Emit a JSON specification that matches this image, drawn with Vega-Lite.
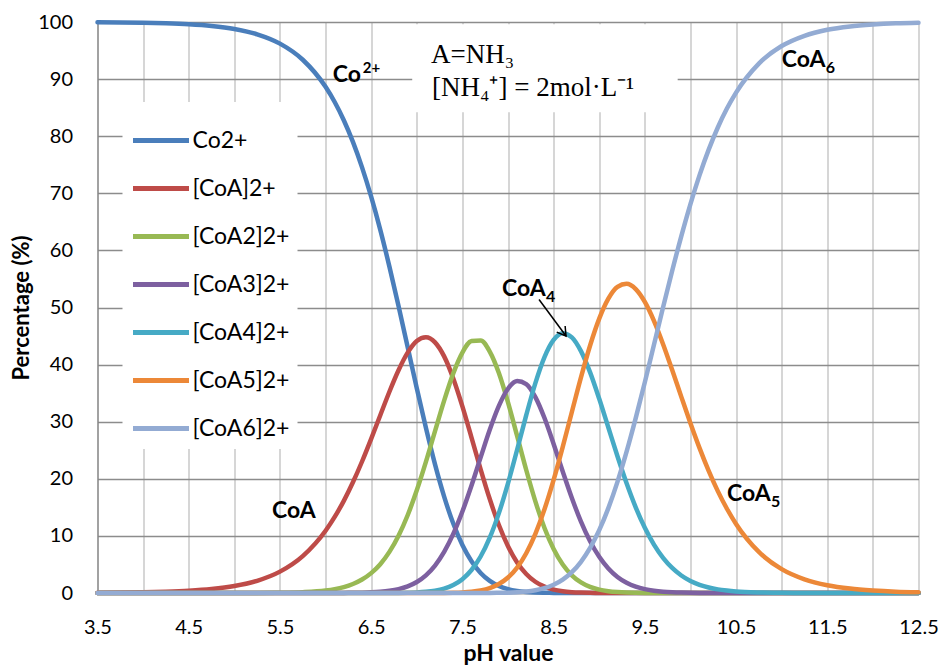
{
  "$schema": "https://vega.github.io/schema/vega-lite/v6.json",
  "width": 821,
  "height": 571,
  "autosize": {"type": "none"},
  "padding": {"left": 97.5, "top": 22, "right": 24.5, "bottom": 75},
  "background": "white",
  "config": {"view": {"stroke": null}, "font": "Lato"},
  "datasets": {
    "species": [
      {"pH":3.5,"s0":99.96,"s1":0.04,"s2":0,"s3":0,"s4":0,"s5":0,"s6":0},
      {"pH":3.75,"s0":99.93,"s1":0.07,"s2":0,"s3":0,"s4":0,"s5":0,"s6":0},
      {"pH":4.0,"s0":99.88,"s1":0.12,"s2":0,"s3":0,"s4":0,"s5":0,"s6":0},
      {"pH":4.25,"s0":99.78,"s1":0.22,"s2":0,"s3":0,"s4":0,"s5":0,"s6":0},
      {"pH":4.5,"s0":99.61,"s1":0.39,"s2":0,"s3":0,"s4":0,"s5":0,"s6":0},
      {"pH":4.75,"s0":99.31,"s1":0.69,"s2":0,"s3":0,"s4":0,"s5":0,"s6":0},
      {"pH":5.0,"s0":98.78,"s1":1.22,"s2":0,"s3":0,"s4":0,"s5":0,"s6":0},
      {"pH":5.25,"s0":97.84,"s1":2.14,"s2":0.02,"s3":0,"s4":0,"s5":0,"s6":0},
      {"pH":5.5,"s0":96.21,"s1":3.74,"s2":0.05,"s3":0,"s4":0,"s5":0,"s6":0},
      {"pH":5.75,"s0":93.39,"s1":6.46,"s2":0.15,"s3":0,"s4":0,"s5":0,"s6":0},
      {"pH":6.0,"s0":88.65,"s1":10.90,"s2":0.44,"s3":0,"s4":0,"s5":0,"s6":0},
      {"pH":6.1,"s0":85.99,"s1":13.32,"s2":0.68,"s3":0.01,"s4":0,"s5":0,"s6":0},
      {"pH":6.2,"s0":82.80,"s1":16.14,"s2":1.04,"s3":0.02,"s4":0,"s5":0,"s6":0},
      {"pH":6.3,"s0":79.00,"s1":19.39,"s2":1.58,"s3":0.03,"s4":0,"s5":0,"s6":0},
      {"pH":6.4,"s0":74.54,"s1":23.03,"s2":2.36,"s3":0.06,"s4":0,"s5":0,"s6":0},
      {"pH":6.5,"s0":69.40,"s1":27.00,"s2":3.48,"s3":0.12,"s4":0,"s5":0,"s6":0},
      {"pH":6.6,"s0":63.59,"s1":31.14,"s2":5.05,"s3":0.22,"s4":0,"s5":0,"s6":0},
      {"pH":6.7,"s0":57.16,"s1":35.25,"s2":7.20,"s3":0.39,"s4":0.01,"s5":0,"s6":0},
      {"pH":6.8,"s0":50.26,"s1":39.01,"s2":10.03,"s3":0.68,"s4":0.02,"s5":0,"s6":0},
      {"pH":6.9,"s0":43.08,"s1":42.09,"s2":13.62,"s3":1.16,"s4":0.05,"s5":0,"s6":0},
      {"pH":7.0,"s0":35.87,"s1":44.13,"s2":17.98,"s3":1.93,"s4":0.10,"s5":0,"s6":0},
      {"pH":7.1,"s0":28.92,"s1":44.79,"s2":22.97,"s3":3.10,"s4":0.21,"s5":0,"s6":0},
      {"pH":7.2,"s0":22.52,"s1":43.90,"s2":28.35,"s3":4.81,"s4":0.41,"s5":0.01,"s6":0},
      {"pH":7.3,"s0":16.88,"s1":41.44,"s2":33.68,"s3":7.20,"s4":0.77,"s5":0.02,"s6":0},
      {"pH":7.4,"s0":12.16,"s1":37.58,"s2":38.46,"s3":10.35,"s4":1.40,"s5":0.05,"s6":0},
      {"pH":7.5,"s0":8.40,"s1":32.69,"s2":42.11,"s3":14.27,"s4":2.42,"s5":0.11,"s6":0},
      {"pH":7.6,"s0":5.56,"s1":27.22,"s2":44.14,"s3":18.83,"s4":4.03,"s5":0.23,"s6":0},
      {"pH":7.7,"s0":3.51,"s1":21.66,"s2":44.23,"s3":23.75,"s4":6.39,"s5":0.45,"s6":0.01},
      {"pH":7.8,"s0":2.12,"s1":16.45,"s2":42.28,"s3":28.59,"s4":9.69,"s5":0.86,"s6":0.01},
      {"pH":7.9,"s0":1.22,"s1":11.90,"s2":38.52,"s3":32.78,"s4":13.99,"s5":1.57,"s6":0.03},
      {"pH":8.0,"s0":0.67,"s1":8.19,"s2":33.38,"s3":35.77,"s4":19.21,"s5":2.71,"s6":0.06},
      {"pH":8.1,"s0":0.35,"s1":5.36,"s2":27.51,"s3":37.11,"s4":25.09,"s5":4.46,"s6":0.13},
      {"pH":8.2,"s0":0.17,"s1":3.34,"s2":21.54,"s3":36.59,"s4":31.14,"s5":6.97,"s6":0.25},
      {"pH":8.3,"s0":0.08,"s1":1.97,"s2":16.05,"s3":34.31,"s4":36.76,"s5":10.36,"s6":0.47},
      {"pH":8.4,"s0":0.04,"s1":1.11,"s2":11.38,"s3":30.64,"s4":41.33,"s5":14.66,"s6":0.84},
      {"pH":8.5,"s0":0.02,"s1":0.60,"s2":7.71,"s3":26.11,"s4":44.34,"s5":19.80,"s6":1.43},
      {"pH":8.6,"s0":0,"s1":0.31,"s2":4.99,"s3":21.28,"s4":45.50,"s5":25.59,"s6":2.33},
      {"pH":8.7,"s0":0,"s1":0.15,"s2":3.10,"s3":16.64,"s4":44.78,"s5":31.70,"s6":3.64},
      {"pH":8.8,"s0":0,"s1":0.07,"s2":1.85,"s3":12.50,"s4":42.36,"s5":37.76,"s6":5.46},
      {"pH":8.9,"s0":0,"s1":0.03,"s2":1.06,"s3":9.05,"s4":38.63,"s5":43.34,"s6":7.89},
      {"pH":9.0,"s0":0,"s1":0.01,"s2":0.59,"s3":6.33,"s4":34.01,"s5":48.04,"s6":11.01},
      {"pH":9.1,"s0":0,"s1":0,"s2":0.32,"s3":4.29,"s4":28.98,"s5":51.54,"s6":14.87},
      {"pH":9.2,"s0":0,"s1":0,"s2":0.17,"s3":2.81,"s4":23.95,"s5":53.61,"s6":19.47},
      {"pH":9.3,"s0":0,"s1":0,"s2":0.08,"s3":1.79,"s4":19.21,"s5":54.15,"s6":24.75},
      {"pH":9.4,"s0":0,"s1":0,"s2":0.04,"s3":1.11,"s4":15.00,"s5":53.22,"s6":30.62},
      {"pH":9.5,"s0":0,"s1":0,"s2":0.02,"s3":0.67,"s4":11.41,"s5":50.97,"s6":36.92},
      {"pH":9.6,"s0":0,"s1":0,"s2":0.01,"s3":0.40,"s4":8.47,"s5":47.66,"s6":43.47},
      {"pH":9.7,"s0":0,"s1":0,"s2":0,"s3":0.23,"s4":6.15,"s5":43.58,"s6":50.04},
      {"pH":9.8,"s0":0,"s1":0,"s2":0,"s3":0.13,"s4":4.38,"s5":39.05,"s6":56.44},
      {"pH":9.9,"s0":0,"s1":0,"s2":0,"s3":0.07,"s4":3.06,"s5":34.35,"s6":62.51},
      {"pH":10.0,"s0":0,"s1":0,"s2":0,"s3":0.04,"s4":2.10,"s5":29.73,"s6":68.12},
      {"pH":10.1,"s0":0,"s1":0,"s2":0,"s3":0.02,"s4":1.43,"s5":25.37,"s6":73.18},
      {"pH":10.2,"s0":0,"s1":0,"s2":0,"s3":0.01,"s4":0.96,"s5":21.39,"s6":77.65},
      {"pH":10.3,"s0":0,"s1":0,"s2":0,"s3":0,"s4":0.63,"s5":17.84,"s6":81.53},
      {"pH":10.4,"s0":0,"s1":0,"s2":0,"s3":0,"s4":0.42,"s5":14.75,"s6":84.84},
      {"pH":10.5,"s0":0,"s1":0,"s2":0,"s3":0,"s4":0.27,"s5":12.09,"s6":87.64},
      {"pH":10.75,"s0":0,"s1":0,"s2":0,"s3":0,"s4":0.09,"s5":7.19,"s6":92.72},
      {"pH":11.0,"s0":0,"s1":0,"s2":0,"s3":0,"s4":0.03,"s5":4.18,"s6":95.79},
      {"pH":11.25,"s0":0,"s1":0,"s2":0,"s3":0,"s4":0.01,"s5":2.40,"s6":97.59},
      {"pH":11.5,"s0":0,"s1":0,"s2":0,"s3":0,"s4":0,"s5":1.36,"s6":98.64},
      {"pH":11.75,"s0":0,"s1":0,"s2":0,"s3":0,"s4":0,"s5":0.77,"s6":99.23},
      {"pH":12.0,"s0":0,"s1":0,"s2":0,"s3":0,"s4":0,"s5":0.44,"s6":99.56},
      {"pH":12.25,"s0":0,"s1":0,"s2":0,"s3":0,"s4":0,"s5":0.24,"s6":99.76},
      {"pH":12.5,"s0":0,"s1":0,"s2":0,"s3":0,"s4":0,"s5":0.14,"s6":99.86}
    ],
    "box": [{"pH": 6.95, "pH2": 9.86, "pct": 84.2, "pct2": 99.6}],
    "arrow": [{"pH": 8.34, "pct": 51.4, "pH2": 8.636, "pct2": 45.0}],
    "labels": [
      {"pH": 6.08, "pct": 89.5, "label": "Co", "sup": "2+", "sub": ""},
      {"pH": 5.413, "pct": 13.1, "label": "CoA", "sup": "", "sub": ""},
      {"pH": 7.934, "pct": 52.0, "label": "CoA", "sup": "", "sub": "4"},
      {"pH": 10.40, "pct": 16.1, "label": "CoA", "sup": "", "sub": "5"},
      {"pH": 11.0, "pct": 92.1, "label": "CoA", "sup": "", "sub": "6"}
    ],
    "cond": [
      {"pH": 7.156, "pct": 92.8, "label": "A=NH₃"},
      {"pH": 7.167, "pct": 87.0, "label": "[NH₄⁺] = 2mol·L⁻¹"}
    ]
  },
  "encoding": {
    "x": {
      "field": "pH", "type": "quantitative",
      "scale": {"domain": [3.5, 12.5], "nice": false, "zero": false},
      "axis": {
        "title": "pH value",
        "values": [3.5,4,4.5,5,5.5,6,6.5,7,7.5,8,8.5,9,9.5,10,10.5,11,11.5,12,12.5],
        "labelExpr": "datum.value % 1 == 0 ? '' : format(datum.value, '.1f')",
        "labelOverlap": false,
        "labelFlush": false,
        "ticks": false,
        "labelPadding": 24,
        "labelFont": "Lato", "labelFontSize": 20, "labelColor": "black",
        "titleFont": "Lato", "titleFontSize": 23, "titleFontWeight": "bold", "titleColor": "black",
        "titlePadding": 5,
        "grid": true, "gridColor": "#C0C0C0", "gridWidth": 1.3,
        "domainColor": "#868686", "domainWidth": 1.3
      }
    },
    "y": {
      "field": "pct", "type": "quantitative",
      "scale": {"domain": [0, 100], "nice": false},
      "axis": {
        "title": "Percentage (%)",
        "values": [0,10,20,30,40,50,60,70,80,90,100],
        "ticks": false,
        "labelPadding": 25,
        "labelFont": "Lato", "labelFontSize": 20, "labelColor": "black",
        "titleFont": "Lato", "titleFontSize": 22, "titleFontWeight": "bold", "titleColor": "black",
        "titlePadding": 4,
        "grid": true, "gridColor": "#8C8C8C", "gridWidth": 1.3,
        "domainColor": "#868686", "domainWidth": 1.3
      }
    }
  },
  "layer": [
    {
      "data": {"name": "box"},
      "mark": {"type": "rect", "fill": "white"},
      "encoding": {"x2": {"field": "pH2"}, "y2": {"field": "pct2"}}
    },
    {
      "data": {"name": "species"},
      "transform": [{"fold": ["s0","s1","s2","s3","s4","s5","s6"], "as": ["sp", "pct"]}],
      "mark": {"type": "line", "interpolate": "monotone", "strokeWidth": 4.5, "strokeCap": "round"},
      "encoding": {
        "color": {
          "field": "sp", "type": "nominal",
          "scale": {"domain": ["s0","s1","s2","s3","s4","s5","s6"],
                    "range": ["#4A7EBB","#BE4B48","#98B954","#7D60A0","#46AAC5","#EC8838","#93ABD3"]},
          "legend": {
            "orient": "none", "legendX": 25, "legendY": 80,
            "title": null,
            "fillColor": "white",
            "padding": 8,
            "symbolType": "stroke", "symbolSize": 3136, "symbolStrokeWidth": 5,
            "labelFont": "Lato", "labelFontSize": 23, "labelColor": "black",
            "labelOffset": 1, "rowPadding": 5, "labelLimit": 300,
            "labelExpr": "datum.label=='s0'?'Co2+':datum.label=='s1'?'[CoA]2+':datum.label=='s2'?'[CoA2]2+':datum.label=='s3'?'[CoA3]2+':datum.label=='s4'?'[CoA4]2+':datum.label=='s5'?'[CoA5]2+':'[CoA6]2+'"
          }
        }
      }
    },
    {
      "data": {"name": "arrow"},
      "mark": {"type": "rule", "color": "black", "strokeWidth": 1.5},
      "encoding": {"x2": {"field": "pH2"}, "y2": {"field": "pct2"}}
    },
    {
      "data": {"name": "arrow"},
      "mark": {"type": "point", "shape": "M-0.6,-1L0,0L0.6,-1", "filled": false, "stroke": "black", "strokeWidth": 1.5, "size": 300, "angle": -36, "opacity": 1},
      "encoding": {"x": {"field": "pH2", "type": "quantitative"}, "y": {"field": "pct2", "type": "quantitative"}}
    },
    {
      "data": {"name": "labels"},
      "mark": {"type": "text", "font": "Lato", "fontWeight": "bold", "fontSize": 23, "align": "left", "baseline": "alphabetic", "color": "black"},
      "encoding": {"text": {"field": "label"}}
    },
    {
      "data": {"name": "labels"},
      "transform": [{"filter": "datum.sub != ''"}],
      "mark": {"type": "text", "font": "Lato", "fontWeight": "bold", "fontSize": 16, "align": "left", "baseline": "alphabetic", "color": "black", "dx": 44, "dy": 6},
      "encoding": {"text": {"field": "sub"}}
    },
    {
      "data": {"name": "labels"},
      "transform": [{"filter": "datum.sup != ''"}],
      "mark": {"type": "text", "font": "Lato", "fontWeight": "bold", "fontSize": 15, "align": "left", "baseline": "alphabetic", "color": "black", "dx": 30, "dy": -9},
      "encoding": {"text": {"field": "sup"}}
    },
    {
      "data": {"name": "cond"},
      "mark": {"type": "text", "font": "Liberation Serif", "fontSize": 27, "align": "left", "baseline": "alphabetic", "color": "black"},
      "encoding": {"text": {"field": "label"}}
    }
  ]
}
